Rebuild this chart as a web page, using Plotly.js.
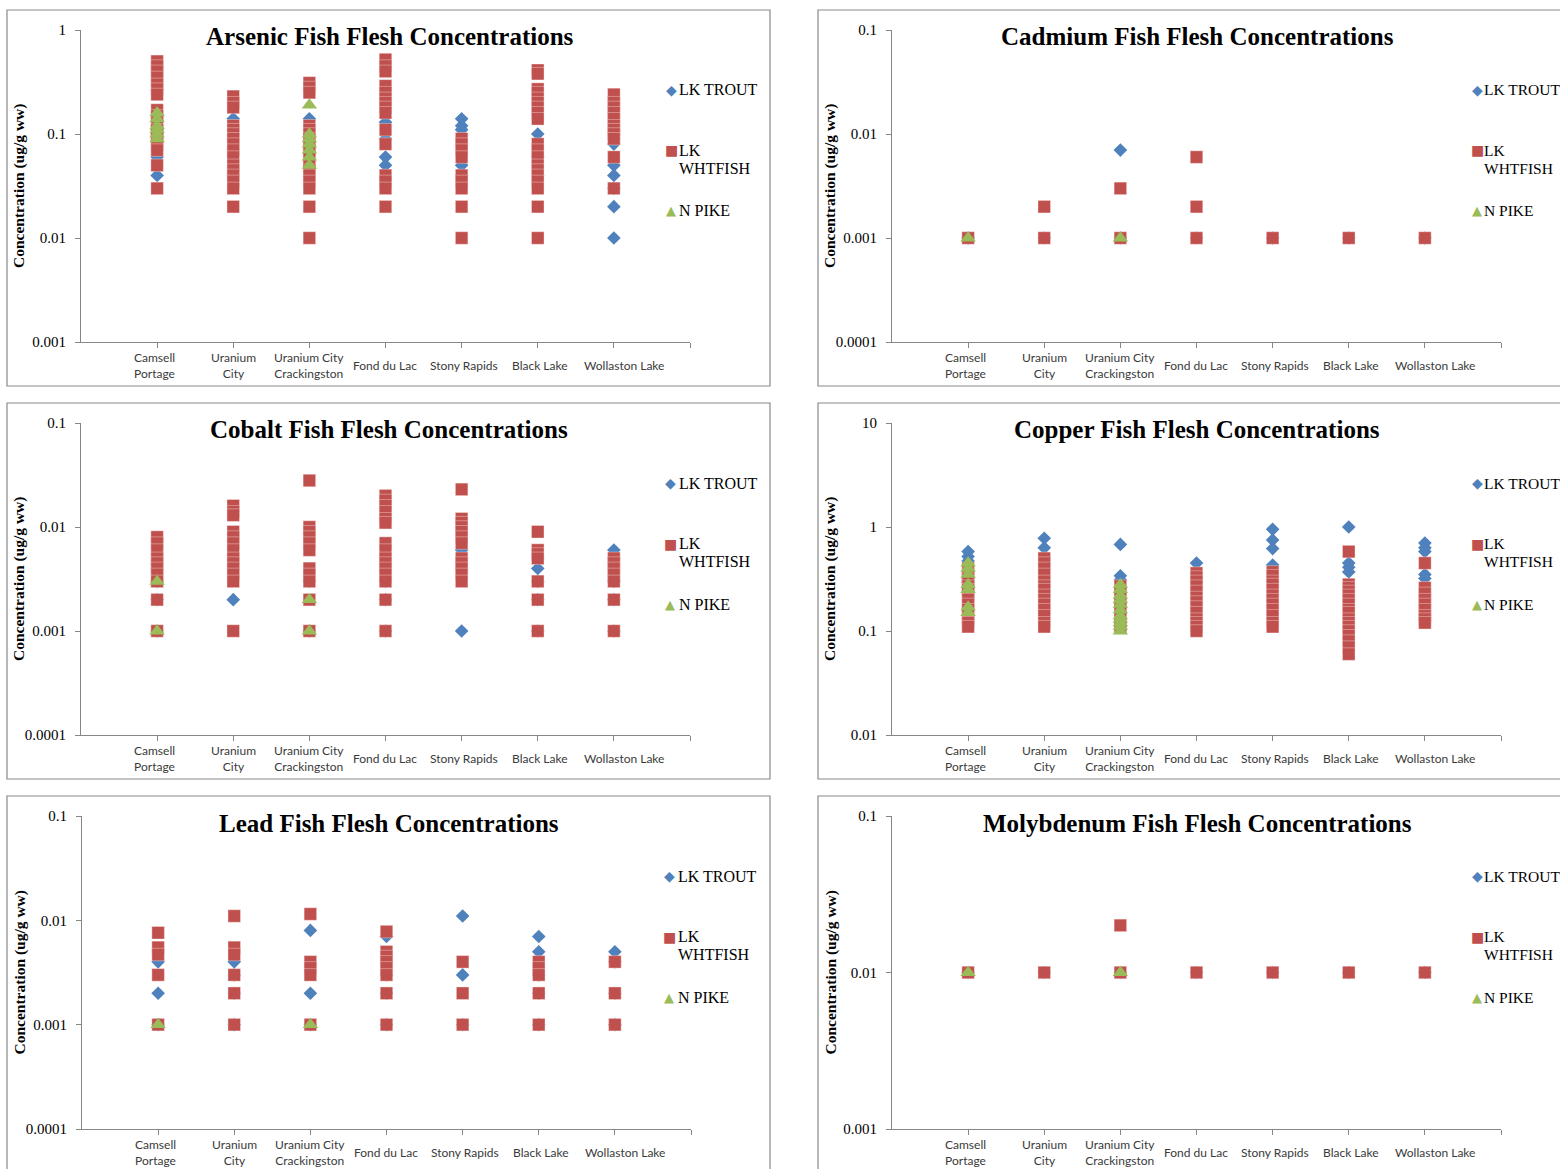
<!DOCTYPE html>
<html><head><meta charset="utf-8">
<script src="https://cdn.plot.ly/plotly-3.0.1.min.js"></script>
<style>html,body{margin:0;padding:0;background:#fff}#chart{width:1560px;height:1169px}</style>
</head><body><div id="chart"></div>
<script>
// ---------- categories / labels ----------
const sites = ['Camsell Portage','Uranium City','Uranium City Crackingston','Fond du Lac','Stony Rapids','Black Lake','Wollaston Lake'];
const siteLabels = ['Camsell<br>Portage','Uranium<br>City','Uranium City<br>Crackingston','Fond du Lac','Stony Rapids','Black Lake','Wollaston Lake'];
const speciesNames = ['LK TROUT','LK WHTFISH','N PIKE'];
const metals = ['Arsenic','Cadmium','Cobalt','Copper','Lead','Molybdenum'];
const yTitle = 'Concentration (ug/g ww)';

// ---------- y tick labels ----------
const arsenicTicks = ['0.001','0.01','0.1','1'];
const cadmiumTicks = ['0.0001','0.001','0.01','0.1'];
const cobaltTicks = ['0.0001','0.001','0.01','0.1'];
const copperTicks = ['0.01','0.1','1','10'];
const leadTicks = ['0.0001','0.001','0.01','0.1'];
const molybdenumTicks = ['0.001','0.01','0.1'];

// ---------- data (ug/g ww), one list per site ----------
const arsenicTrout = [[0.12,0.11,0.1,0.06,0.04],[0.2,0.14,0.09,0.07,0.04],[0.14,0.1,0.07,0.05],[0.13,0.09,0.06,0.05],[0.14,0.12,0.11,0.08,0.05,0.04],[0.1,0.06,0.04],[0.08,0.05,0.04,0.03,0.02,0.01]];
const arsenicWhitefish = [
  [0.5,0.45,0.4,0.35,0.3,0.27,0.24,0.17,0.15,0.13,0.11,0.1,0.09,0.08,0.07,0.05,0.03],
  [0.23,0.2,0.18,0.12,0.11,0.1,0.09,0.08,0.07,0.06,0.05,0.045,0.04,0.035,0.03,0.02],
  [0.31,0.28,0.25,0.12,0.11,0.1,0.09,0.08,0.07,0.06,0.05,0.045,0.04,0.035,0.03,0.02,0.01],
  [0.52,0.45,0.4,0.29,0.25,0.22,0.2,0.18,0.16,0.11,0.08,0.04,0.035,0.03,0.02],
  [0.09,0.08,0.07,0.06,0.04,0.035,0.03,0.02,0.01],
  [0.41,0.38,0.27,0.25,0.22,0.2,0.18,0.16,0.14,0.08,0.07,0.06,0.05,0.045,0.04,0.035,0.03,0.02,0.01],
  [0.24,0.2,0.18,0.16,0.14,0.12,0.11,0.1,0.09,0.06,0.03]
];
const arsenicPike = [[0.16,0.14,0.12,0.11,0.1,0.09],[],[0.19,0.1,0.09,0.08,0.07,0.06,0.05],[],[],[],[]];

const cadmiumTrout = [[0.001],[0.001],[0.007,0.001],[0.001],[0.001],[0.001],[0.001]];
const cadmiumWhitefish = [[0.001],[0.002,0.001],[0.003,0.001],[0.006,0.002,0.001],[0.001],[0.001],[0.001]];
const cadmiumPike = [[0.001],[],[0.001],[],[],[],[]];

const cobaltTrout = [[0.004,0.003,0.002,0.001],[0.004,0.002],[0.003,0.001],[0.012,0.003,0.002,0.001],[0.006,0.005,0.004,0.001],[0.005,0.004,0.003,0.002,0.001],[0.006,0.005,0.003,0.002,0.001]];
const cobaltWhitefish = [
  [0.008,0.007,0.006,0.005,0.0045,0.004,0.0035,0.003,0.002,0.001],
  [0.016,0.014,0.013,0.009,0.008,0.007,0.006,0.005,0.0045,0.004,0.0035,0.003,0.001],
  [0.028,0.01,0.009,0.008,0.007,0.006,0.004,0.0035,0.003,0.002,0.001],
  [0.02,0.018,0.016,0.014,0.012,0.011,0.007,0.006,0.005,0.0045,0.004,0.0035,0.003,0.002,0.001],
  [0.023,0.012,0.011,0.01,0.009,0.008,0.007,0.005,0.0045,0.004,0.0035,0.003],
  [0.009,0.006,0.0055,0.005,0.003,0.002,0.001],
  [0.005,0.0045,0.004,0.0035,0.003,0.002,0.001]
];
const cobaltPike = [[0.003,0.001],[],[0.002,0.001],[],[],[],[]];

const copperTrout = [[0.58,0.52,0.47,0.3],[0.78,0.63,0.3],[0.68,0.34,0.31],[0.45,0.3],[0.95,0.75,0.62,0.43,0.3],[1.0,0.45,0.41,0.37,0.2],[0.7,0.63,0.58,0.35,0.32]];
const copperWhitefish = [
  [0.4,0.35,0.32,0.3,0.27,0.25,0.23,0.2,0.18,0.16,0.14,0.13,0.12,0.11],
  [0.5,0.45,0.4,0.35,0.3,0.27,0.25,0.22,0.2,0.18,0.16,0.14,0.12,0.11],
  [0.27,0.24,0.21,0.19,0.17,0.15,0.13,0.12,0.11],
  [0.36,0.33,0.3,0.27,0.24,0.21,0.19,0.17,0.15,0.13,0.12,0.11,0.1],
  [0.37,0.34,0.3,0.28,0.25,0.22,0.2,0.18,0.16,0.14,0.12,0.11],
  [0.58,0.28,0.26,0.24,0.22,0.2,0.18,0.16,0.15,0.13,0.12,0.11,0.1,0.09,0.08,0.07,0.06],
  [0.45,0.26,0.23,0.2,0.18,0.16,0.14,0.13,0.12]
];
const copperPike = [[0.45,0.4,0.35,0.28,0.25,0.17,0.15],[],[0.28,0.25,0.22,0.2,0.18,0.16,0.14,0.13,0.12,0.11,0.1],[],[],[],[]];

const leadTrout = [[0.004,0.002,0.001],[0.004,0.003,0.002,0.001],[0.008,0.002,0.001],[0.007,0.004,0.003,0.002,0.001],[0.011,0.003,0.001],[0.007,0.005,0.003,0.002,0.001],[0.005,0.004,0.002,0.001]];
const leadWhitefish = [
  [0.0076,0.0055,0.0047,0.003,0.001],
  [0.011,0.0055,0.0047,0.003,0.002,0.001],
  [0.0115,0.004,0.0035,0.003,0.001],
  [0.0078,0.005,0.0045,0.004,0.0035,0.003,0.002,0.001],
  [0.004,0.002,0.001],
  [0.004,0.0035,0.003,0.002,0.001],
  [0.004,0.002,0.001]
];
const leadPike = [[0.001],[],[0.001],[],[],[],[]];

const molybdenumTrout = [[0.01],[0.01],[0.01],[0.01],[0.01],[0.01],[0.01]];
const molybdenumWhitefish = [[0.01],[0.01],[0.02,0.01],[0.01],[0.01],[0.01],[0.01]];
const molybdenumPike = [[0.01],[],[0.01],[],[],[],[]];

// ---------- assembly ----------
const panelData = [
  [arsenicTrout, arsenicWhitefish, arsenicPike],
  [cadmiumTrout, cadmiumWhitefish, cadmiumPike],
  [cobaltTrout, cobaltWhitefish, cobaltPike],
  [copperTrout, copperWhitefish, copperPike],
  [leadTrout, leadWhitefish, leadPike],
  [molybdenumTrout, molybdenumWhitefish, molybdenumPike]
];
const panelTicks = [arsenicTicks, cadmiumTicks, cobaltTicks, copperTicks, leadTicks, molybdenumTicks];

// layout geometry in page pixels
const W = 1560, H = 1169;
const fx = v => v / W, fy = v => 1 - v / H;
const geom = [
  {l:81,  r:690,  t:30,  b:342,  box:[7,10,770,386],    tx:390,  yt:19,  lg:671,  lt:677,  lf:16},
  {l:892, r:1501, t:30,  b:342,  box:[818,10,1575,386], tx:1197, yt:830, lg:1477, lt:1482, lf:15.5},
  {l:81,  r:690,  t:423, b:735,  box:[7,403,770,779],   tx:389,  yt:19,  lg:670,  lt:677,  lf:16},
  {l:892, r:1501, t:423, b:735,  box:[818,403,1575,779],tx:1197, yt:830, lg:1477, lt:1482, lf:15.5},
  {l:82,  r:691,  t:816, b:1129, box:[7,796,770,1185],  tx:389,  yt:19,  lg:669,  lt:676,  lf:16},
  {l:892, r:1501, t:816, b:1129, box:[818,796,1575,1185],tx:1197,yt:830, lg:1477, lt:1482, lf:15.5}
];
const labelShift = [-3, 0, 0, -1, 2, 2, 10];

const colors = ['#4F81BD', '#C0504D', '#9BBB59'];
const symbols = ['diamond', 'square', 'triangle-up'];
const sizes = [10.5, 12.5, 13.5];
const glyphs = ['\u25C6', '\u25A0', '\u25B2'];
const glyphSizes = [14, 14, 13];
const serif = 'Liberation Serif, Times New Roman, serif';
const sans = 'Lato, Calibri, sans-serif';
const axisGray = '#868686';

const traces = [];
const layout = {
  width: W, height: H,
  margin: {l:0, r:0, t:0, b:0, autoexpand:false},
  paper_bgcolor: '#fff', plot_bgcolor: 'rgba(0,0,0,0)',
  showlegend: false,
  annotations: [], shapes: []
};

panelData.forEach((series, p) => {
  const g = geom[p];
  const sfx = p === 0 ? '' : String(p + 1);
  series.forEach((bySite, s) => {
    const xs = [], ys = [];
    bySite.forEach((vals, i) => vals.forEach(v => { xs.push(i + 1); ys.push(v); }));
    traces.push({
      type: 'scatter', mode: 'markers', name: speciesNames[s],
      x: xs, y: ys, xaxis: 'x' + sfx, yaxis: 'y' + sfx,
      marker: {symbol: symbols[s], size: sizes[s], color: colors[s],
               line: {width: s === 1 ? 0.7 : 0, color: 'rgba(255,235,235,0.55)'}},
      hovertemplate: '%{y}<extra>' + speciesNames[s] + '</extra>'
    });
  });
  const tickVals = panelTicks[p].map(Number);
  const lo = Math.log10(tickVals[0]), hi = Math.log10(tickVals[tickVals.length - 1]);
  layout['xaxis' + sfx] = {
    domain: [fx(g.l), fx(g.r)], anchor: 'y' + sfx, range: [0, 8],
    tickvals: [1,2,3,4,5,6,7,8], ticks: 'outside', ticklen: 5, tickcolor: axisGray, tickwidth: 1,
    showticklabels: false, showline: true, linecolor: axisGray, linewidth: 1,
    showgrid: false, zeroline: false, fixedrange: true
  };
  layout['yaxis' + sfx] = {
    domain: [fy(g.b), fy(g.t)], anchor: 'x' + sfx, type: 'log', range: [lo, hi],
    tickvals: tickVals, ticktext: panelTicks[p], ticks: 'outside', ticklen: 5,
    tickcolor: axisGray, tickwidth: 1, ticklabelstandoff: 6,
    tickfont: {family: serif, size: 15, color: '#000'},
    showline: true, linecolor: axisGray, linewidth: 1,
    showgrid: false, zeroline: false, fixedrange: true
  };
  // panel frame
  layout.shapes.push({type: 'rect', xref: 'paper', yref: 'paper',
    x0: fx(g.box[0]), x1: fx(g.box[2]), y0: fy(g.box[3]), y1: fy(g.box[1]),
    line: {color: '#898989', width: 1.2}, fillcolor: 'rgba(0,0,0,0)', layer: 'below'});
  // chart title
  layout.annotations.push({xref: 'paper', yref: 'paper', x: fx(g.tx), y: fy(g.t + 7),
    xanchor: 'center', yanchor: 'middle', showarrow: false,
    text: '<b>' + metals[p] + ' Fish Flesh Concentrations</b>',
    font: {family: serif, size: 25, color: '#000'}});
  // y axis title
  layout.annotations.push({xref: 'paper', yref: 'paper', x: fx(g.yt), y: fy((g.t + g.b) / 2),
    xanchor: 'center', yanchor: 'middle', showarrow: false, textangle: -90,
    text: '<b>' + yTitle + '</b>', font: {family: serif, size: 15.5, color: '#000'}});
  // category labels
  siteLabels.forEach((lab, i) => {
    layout.annotations.push({xref: 'x' + sfx, yref: 'paper', x: i + 1, y: fy(g.b + 23),
      xshift: labelShift[i], xanchor: 'center', yanchor: 'middle', showarrow: false,
      text: lab, font: {family: sans, size: 12, color: '#3a3a3a'}});
  });
  // legend
  const rows = [g.t + 60, g.t + 120.5, g.t + 181];
  speciesNames.forEach((nm, s) => {
    layout.annotations.push({xref: 'paper', yref: 'paper', x: fx(g.lg), y: fy(rows[s]),
      xanchor: 'center', yanchor: 'middle', showarrow: false, text: glyphs[s],
      font: {family: 'DejaVu Sans', size: glyphSizes[s], color: colors[s]}});
    const parts = nm === 'LK WHTFISH' ? ['LK', 'WHTFISH'] : [nm];
    parts.forEach((t, k) => {
      layout.annotations.push({xref: 'paper', yref: 'paper', x: fx(g.lt), y: fy(rows[s] + 18 * k),
        xanchor: 'left', yanchor: 'middle', showarrow: false, text: t,
        font: {family: serif, size: g.lf, color: '#000'}});
    });
  });
});

Plotly.newPlot('chart', traces, layout, {displayModeBar: false, staticPlot: true});
</script>
</body></html>
